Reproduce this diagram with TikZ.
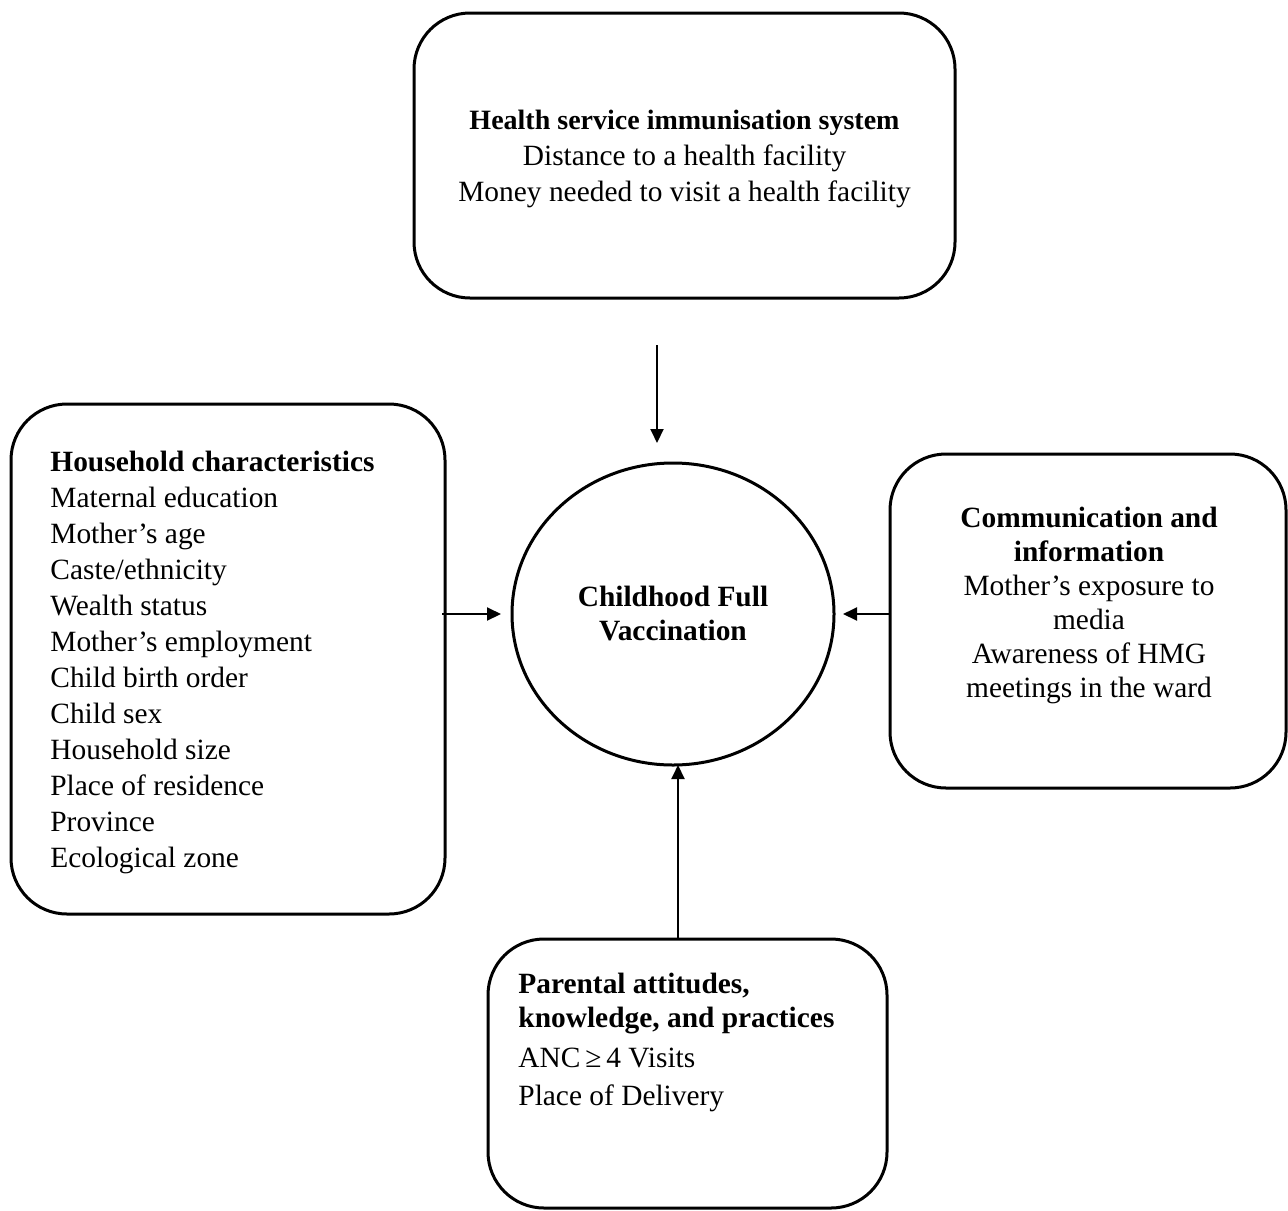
\documentclass[tikz,border=0pt]{standalone}
\usepackage{fontspec}
\setmainfont{Liberation Serif}
\usetikzlibrary{arrows.meta,shapes.geometric}
\begin{document}
\begin{tikzpicture}[x=0.5pt,y=-0.5pt,
  box/.style={draw,line width=1.5pt,rounded corners=28pt,inner sep=0pt},
  txt/.style={font=\fontsize{14.7}{18}\selectfont,inner sep=0pt},
  arr/.style={line width=1pt,-{Triangle[length=7pt,width=6.5pt]}}]
\useasboundingbox (0,0) rectangle (1288,1210);
% boxes
\node[box,minimum width=270.5pt,minimum height=142.5pt] (top) at (684.5,155.5) {};
\node[box,minimum width=217pt,minimum height=255pt] (left) at (228,659) {};
\node[box,minimum width=198pt,minimum height=167pt] (right) at (1088,621) {};
\node[box,minimum width=199.5pt,minimum height=134.5pt] (bottom) at (687.5,1073.5) {};
\node[draw,line width=1.5pt,ellipse,minimum width=161pt,minimum height=151pt,inner sep=0pt] (circ) at (673,614) {};
% texts
\node[txt,align=center] (toptxt) at (684.5,159) {{\fontsize{14}{18}\selectfont\textbf{Health service immunisation system}}\\Distance to a health facility\\Money needed to visit a health facility};
\node[txt,align=left,anchor=west] (lefttxt) at (50,662) {\textbf{Household characteristics}\\Maternal education\\Mother’s age\\Caste/ethnicity\\Wealth status\\Mother’s employment\\Child birth order\\Child sex\\Household size\\Place of residence\\Province\\Ecological zone};
\node[txt,align=center,font=\fontsize{14.7}{17}\selectfont] (righttxt) at (1089,605) {\textbf{Communication and}\\\textbf{information}\\Mother’s exposure to\\media\\Awareness of HMG\\meetings in the ward};
\node[txt,align=left,anchor=north west] (bottxt) at (518,973) {\textbf{Parental attitudes,}\\[-1pt]\textbf{knowledge, and practices}\\[1.8pt]ANC\,≥\,4 Visits\\[1pt]Place of Delivery};
\node[txt,align=center] (circtxt) at (673,614) {\textbf{Childhood Full}\\[-1pt]\textbf{Vaccination}};
% connectors
\coordinate (ta) at (657,345);
\coordinate (tb) at (657,443);
\coordinate (la) at (442,614);
\coordinate (lb) at (501,614);
\coordinate (rb) at (843,614);
\coordinate (bb) at (678,765);
\draw[arr] (ta) -- (tb);
\draw[arr] (la) -- (lb);
\draw[arr] (right.west |- rb) -- (rb);
\draw[arr] (bottom.north -| bb) -- (bb);
\end{tikzpicture}
\end{document}
